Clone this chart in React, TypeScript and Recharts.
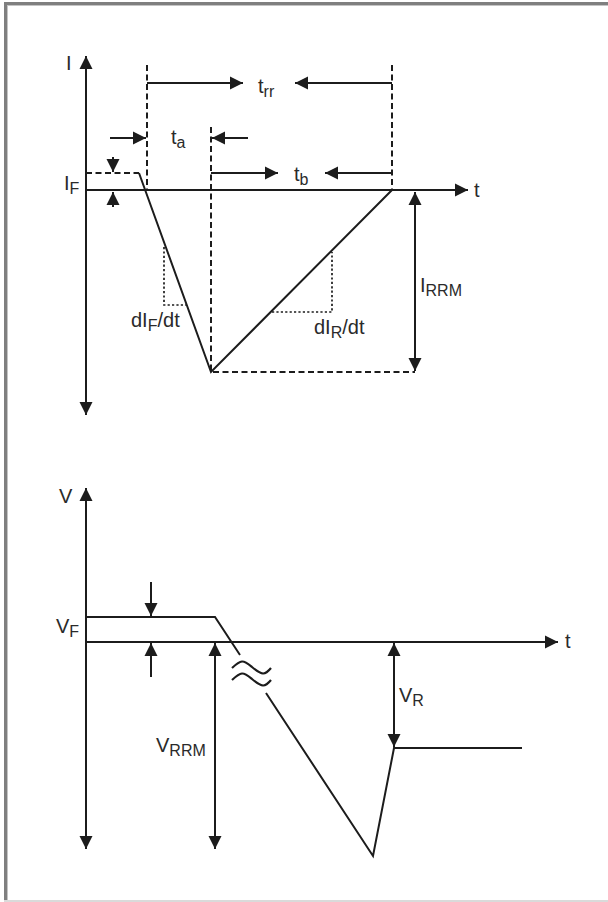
import React from "react";
import { ComposedChart, Line, Scatter, XAxis, YAxis, ReferenceLine } from "recharts";

// Reverse-recovery waveforms of a diode. Both panels share the time axis (t = 0 on the
// vertical axes); current and voltage are in arbitrary units.

type Pt = { t: number; v: number | null };
type Arrow = { t1: number; v1: number; t2: number; v2: number; both?: boolean };
type Tag = { t: number; v: number; main: string; sub?: string; tail?: string };

// ---- current panel ----
const iAxes: Arrow[] = [
  { t1: 0, v1: -22.5, t2: 0, v2: 13.4, both: true },
  { t1: 0, v1: 0, t2: 38.2, v2: 0 },
];
const iForward: Pt[] = [
  { t: 0, v: 1.7 },
  { t: 5.3, v: 1.7 },
];
const iRecovery: Pt[] = [
  { t: 5.3, v: 1.7 },
  { t: 12.5, v: -18.2 },
  { t: 30.6, v: 0 },
];
const iGuides: Pt[] = [
  { t: 6.1, v: 12.5 },
  { t: 6.1, v: 0 },
  { t: 6.1, v: null },
  { t: 12.5, v: 6.3 },
  { t: 12.5, v: -18.2 },
  { t: 32.9, v: -18.2 },
  { t: 32.9, v: null },
  { t: 30.6, v: 12.5 },
  { t: 30.6, v: 0 },
];
const iSlopes: Pt[] = [
  { t: 7.8, v: -5.7 },
  { t: 7.8, v: -11.5 },
  { t: 10.1, v: -11.5 },
  { t: 10.1, v: null },
  { t: 18.6, v: -12.2 },
  { t: 24.6, v: -12.2 },
  { t: 24.6, v: -6.2 },
];
const iDims: Arrow[] = [
  { t1: 6.1, v1: 10.7, t2: 15.7, v2: 10.7 },
  { t1: 30.6, v1: 10.7, t2: 20.9, v2: 10.7 },
  { t1: 2.4, v1: 5.2, t2: 6.0, v2: 5.2 },
  { t1: 16.2, v1: 5.2, t2: 12.6, v2: 5.2 },
  { t1: 12.5, v1: 1.7, t2: 19.2, v2: 1.7 },
  { t1: 30.6, v1: 1.7, t2: 23.9, v2: 1.7 },
  { t1: 2.7, v1: 3.3, t2: 2.7, v2: 1.8 },
  { t1: 2.7, v1: -1.7, t2: 2.7, v2: -0.2 },
  { t1: 32.9, v1: -0.2, t2: 32.9, v2: -18.1, both: true },
];
const iTags: Tag[] = [
  { t: -2.0, v: 12.0, main: "I" },
  { t: 38.8, v: -0.65, main: "t" },
  { t: 17.2, v: 9.7, main: "t", sub: "rr" },
  { t: 8.5, v: 4.6, main: "t", sub: "a" },
  { t: 20.8, v: 0.9, main: "t", sub: "b" },
  { t: -2.2, v: 0.05, main: "I", sub: "F" },
  { t: 4.5, v: -13.7, main: "dI", sub: "F", tail: "/dt" },
  { t: 22.8, v: -14.4, main: "dI", sub: "R", tail: "/dt" },
  { t: 33.4, v: -10.2, main: "I", sub: "RRM" },
];

// ---- voltage panel ----
const vAxes: Arrow[] = [
  { t1: 0, v1: -20.7, t2: 0, v2: 15.4, both: true },
  { t1: 0, v1: 0, t2: 47.2, v2: 0 },
];
const vForward: Pt[] = [
  { t: 0, v: 2.5 },
  { t: 12.9, v: 2.5 },
  { t: 15.4, v: -1.3 },
];
const vReverse: Pt[] = [
  { t: 18.0, v: -5.1 },
  { t: 28.7, v: -21.4 },
  { t: 30.8, v: -10.6 },
  { t: 43.6, v: -10.6 },
];
const vBreakUpper: Pt[] = [
  { t: 14.6, v: -2.6 },
  { t: 15.6, v: -1.95 },
  { t: 16.6, v: -2.5 },
  { t: 17.7, v: -3.15 },
  { t: 18.5, v: -2.6 },
];
const vBreakLower: Pt[] = [
  { t: 14.6, v: -3.8 },
  { t: 15.6, v: -3.15 },
  { t: 16.6, v: -3.7 },
  { t: 17.7, v: -4.35 },
  { t: 18.5, v: -3.8 },
];
const vDims: Arrow[] = [
  { t1: 6.5, v1: 6.0, t2: 6.5, v2: 2.6 },
  { t1: 6.5, v1: -3.5, t2: 6.5, v2: -0.1 },
  { t1: 12.9, v1: -0.1, t2: 12.9, v2: -20.7, both: true },
  { t1: 30.8, v1: -0.1, t2: 30.8, v2: -10.5, both: true },
];
const vTags: Tag[] = [
  { t: -2.7, v: 13.9, main: "V" },
  { t: 47.9, v: -0.6, main: "t" },
  { t: -3.0, v: 0.9, main: "V", sub: "F" },
  { t: 7.0, v: -11.0, main: "V", sub: "RRM" },
  { t: 31.3, v: -6.0, main: "V", sub: "R" },
];

const INK = "#1c1c1c";
const TEXT = "#2a2a2a";
const FONT = '"Liberation Sans", Arial, Helvetica, sans-serif';

const flip: Record<string, string> = { up: "down", down: "up", left: "right", right: "left" };
const dirOf = (a: Arrow) =>
  a.t2 > a.t1 ? "right" : a.t2 < a.t1 ? "left" : a.v2 > a.v1 ? "up" : "down";
const headsOf = (list: Arrow[]) =>
  list.flatMap((a) => {
    const d = dirOf(a);
    const out = [{ t: a.t2, v: a.v2, dir: d }];
    if (a.both) out.push({ t: a.t1, v: a.v1, dir: flip[d] });
    return out;
  });

const Head = (props: any) => {
  const { cx, cy, payload } = props;
  if (cx == null || cy == null) return null;
  const len = 13;
  const w = 6.5;
  let pts = "";
  switch (payload.dir) {
    case "up":
      pts = `${cx},${cy} ${cx - w},${cy + len} ${cx + w},${cy + len}`;
      break;
    case "down":
      pts = `${cx},${cy} ${cx - w},${cy - len} ${cx + w},${cy - len}`;
      break;
    case "left":
      pts = `${cx},${cy} ${cx + len},${cy - w} ${cx + len},${cy + w}`;
      break;
    default:
      pts = `${cx},${cy} ${cx - len},${cy - w} ${cx - len},${cy + w}`;
  }
  return <polygon points={pts} fill={INK} />;
};

const TagText = (props: any) => {
  const { cx, cy, payload } = props;
  if (cx == null || cy == null) return null;
  return (
    <text x={cx} y={cy} fontFamily={FONT} fontSize={20} fill={TEXT}>
      {payload.main}
      {payload.sub && (
        <tspan fontSize={16} dy={4}>
          {payload.sub}
        </tspan>
      )}
      {payload.tail && (
        <tspan fontSize={20} dy={-4}>
          {payload.tail}
        </tspan>
      )}
    </text>
  );
};

const shafts = (list: Arrow[], axisId: string, prefix: string) =>
  list.map((a, i) => (
    <ReferenceLine
      key={`${prefix}${i}`}
      yAxisId={axisId}
      segment={[
        { x: a.t1, y: a.v1 },
        { x: a.t2, y: a.v2 },
      ]}
      stroke={INK}
      strokeWidth={2}
      ifOverflow="visible"
    />
  ));

const solid = { stroke: INK, strokeWidth: 2, dot: false, activeDot: false, isAnimationActive: false };

export default function App() {
  return (
    <div style={{ position: "absolute", left: 0, top: 0, width: 608, height: 902, background: "#fff" }}>
      <div style={{ position: "absolute", left: 4, top: 2, width: 604, height: 3, background: "#7f7f7f" }} />
      <div style={{ position: "absolute", left: 7, top: 5, width: 601, height: 1, background: "#c4c4c4" }} />
      <div style={{ position: "absolute", left: 4, top: 2, width: 3, height: 900, background: "#7f7f7f" }} />
      <div style={{ position: "absolute", left: 7, top: 5, width: 1, height: 897, background: "#c4c4c4" }} />
      <div style={{ position: "absolute", left: 4, top: 900, width: 604, height: 2, background: "#dadada" }} />
      <div style={{ position: "absolute", left: 0, top: 0 }}>
        <ComposedChart width={608} height={902} margin={{ top: 0, right: 0, bottom: 0, left: 0 }}>
          <XAxis type="number" dataKey="t" domain={[-8.6, 52.2]} allowDataOverflow hide />
          <YAxis yAxisId="i" type="number" domain={[-71.2, 19.0]} allowDataOverflow hide />
          <YAxis yAxisId="v" type="number" domain={[-26.0, 64.2]} allowDataOverflow hide />

          {shafts(iAxes, "i", "ia")}
          {shafts(iDims, "i", "id")}
          {shafts(vAxes, "v", "va")}
          {shafts(vDims, "v", "vd")}

          <Line yAxisId="i" data={iGuides} dataKey="v" type="linear" {...solid} strokeDasharray="6 3.5" />
          <Line yAxisId="i" data={iSlopes} dataKey="v" type="linear" {...solid} strokeWidth={1.7} strokeDasharray="2.2 2.2" />
          <Line yAxisId="i" data={iForward} dataKey="v" type="linear" {...solid} strokeDasharray="6 3.5" />
          <Line yAxisId="i" data={iRecovery} dataKey="v" type="linear" {...solid} />

          <Line yAxisId="v" data={vForward} dataKey="v" type="linear" {...solid} />
          <Line yAxisId="v" data={vReverse} dataKey="v" type="linear" {...solid} />
          <Line yAxisId="v" data={vBreakUpper} dataKey="v" type="natural" {...solid} strokeWidth={2.2} />
          <Line yAxisId="v" data={vBreakLower} dataKey="v" type="natural" {...solid} strokeWidth={2.2} />

          <Scatter yAxisId="i" data={headsOf([...iAxes, ...iDims])} dataKey="v" shape={Head} isAnimationActive={false} />
          <Scatter yAxisId="v" data={headsOf([...vAxes, ...vDims])} dataKey="v" shape={Head} isAnimationActive={false} />
          <Scatter yAxisId="i" data={iTags} dataKey="v" shape={TagText} isAnimationActive={false} />
          <Scatter yAxisId="v" data={vTags} dataKey="v" shape={TagText} isAnimationActive={false} />
        </ComposedChart>
      </div>
    </div>
  );
}
